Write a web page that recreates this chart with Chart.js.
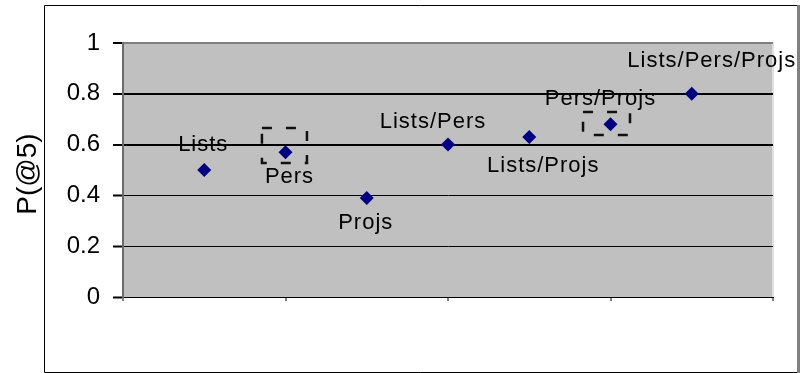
<!DOCTYPE html>
<html>
<head>
<meta charset="utf-8">
<script src="https://cdn.jsdelivr.net/npm/chart.js@4/dist/chart.umd.min.js"></script>
<style>
  body { margin: 0; background: #fff; }
</style>
</head>
<body>
<canvas id="chart" width="801" height="373"></canvas>
<script>
// data
const categories = ['Lists', 'Pers', 'Projs', 'Lists/Pers', 'Lists/Projs', 'Pers/Projs', 'Lists/Pers/Projs']
const xValues = [0.5, 1, 1.5, 2, 2.5, 3, 3.5]
const p5Values = [0.5, 0.57, 0.39, 0.6, 0.63, 0.68, 0.8]
const yTicks = [0, 0.2, 0.4, 0.6, 0.8, 1]

// where each point's label sits, in px from the point
const labelDx = [-1, 4, -1, -15, 14, -10, 20]
const labelDy = [-25, 25, 25, -23, 29, -25, -33]

// dashed boxes around two of the points (data units)
const boxes = [
  { x0: 0.855, x1: 1.132, y0: 0.528, y1: 0.665 },
  { x0: 2.831, x1: 3.12, y0: 0.638, y1: 0.728 }
]

const frame = {
  id: 'frame',
  beforeDraw(chart) {
    const { ctx, chartArea: a } = chart
    ctx.save()
    ctx.fillStyle = '#c0c0c0'
    ctx.fillRect(a.left, a.top, a.right - a.left, a.bottom - a.top)
    ctx.strokeStyle = '#e0e0e0'
    ctx.lineWidth = 2
    ctx.beginPath()
    ctx.moveTo(a.right, a.top)
    ctx.lineTo(a.right, a.bottom + 4)
    ctx.stroke()
    // outer border
    ctx.strokeStyle = '#000'
    ctx.lineWidth = 1
    ctx.beginPath()
    ctx.moveTo(797, 5.5)
    ctx.lineTo(44.5, 5.5)
    ctx.lineTo(44.5, 372.5)
    ctx.lineTo(797, 372.5)
    ctx.stroke()
    ctx.strokeStyle = '#808080'
    ctx.lineWidth = 3
    ctx.beginPath()
    ctx.moveTo(798.5, 5)
    ctx.lineTo(798.5, 373)
    ctx.stroke()
    // y title
    ctx.fillStyle = '#000'
    ctx.font = '28px "Liberation Sans", Arial, sans-serif'
    ctx.textAlign = 'center'
    ctx.textBaseline = 'middle'
    ctx.translate(28, 174)
    ctx.rotate(-Math.PI / 2)
    ctx.fillText('P(@5)', 0, 0)
    ctx.restore()
  },
  afterDatasetsDraw(chart) {
    const { ctx } = chart
    const xs = chart.scales.x, ys = chart.scales.y
    ctx.save()
    ctx.strokeStyle = '#111'
    ctx.lineWidth = 2.5
    ctx.setLineDash([10, 14])
    boxes.forEach(b => {
      const l = xs.getPixelForValue(b.x0), r = xs.getPixelForValue(b.x1)
      const t = ys.getPixelForValue(b.y1), btm = ys.getPixelForValue(b.y0)
      ctx.strokeRect(l, t, r - l, btm - t)
    })
    ctx.setLineDash([])
    ctx.fillStyle = '#000'
    ctx.font = '22px "Liberation Sans", Arial, sans-serif'
    ctx.letterSpacing = '1px'
    ctx.textAlign = 'center'
    ctx.textBaseline = 'middle'
    chart.getDatasetMeta(0).data.forEach((pt, i) => {
      ctx.fillText(categories[i], pt.x + labelDx[i], pt.y + labelDy[i])
    })
    ctx.restore()
  }
}

new Chart(document.getElementById('chart'), {
  type: 'scatter',
  data: {
    datasets: [{
      label: 'P(@5)',
      data: xValues.map((x, i) => ({ x: x, y: p5Values[i] })),
      pointStyle: 'rectRot',
      pointRadius: 7,
      pointBackgroundColor: '#000080',
      pointBorderWidth: 0,
      pointHoverRadius: 7
    }]
  },
  options: {
    responsive: false,
    animation: false,
    events: [],
    layout: { padding: { top: 43, right: 28, left: 0, bottom: 0 } },
    plugins: { legend: { display: false }, tooltip: { enabled: false } },
    scales: {
      x: {
        type: 'linear',
        min: 0,
        max: 4,
        ticks: { display: false, stepSize: 1 },
        grid: { drawOnChartArea: false, drawTicks: true, tickLength: 4, color: '#808080', lineWidth: 2 },
        border: { color: '#000', width: 1 },
        afterFit: scale => { scale.height = 76 }
      },
      y: {
        min: 0,
        max: 1,
        afterBuildTicks: scale => { scale.ticks = yTicks.map(v => ({ value: v })) },
        ticks: {
          color: '#000',
          padding: 13,
          font: { family: '"Liberation Sans", Arial, sans-serif', size: 24 },
          callback: v => String(v)
        },
        grid: {
          color: c => c.tick && c.tick.value === 1 ? '#808080' : '#000',
          lineWidth: c => c.tick && (c.tick.value === 0.6 || c.tick.value === 0.8 || c.tick.value === 1) ? 2 : 1,
          tickColor: '#000',
          tickLength: 10,
          tickWidth: 2
        },
        border: { color: '#6b6b6b', width: 2 },
        afterFit: scale => { scale.width = 123 }
      }
    }
  },
  plugins: [frame]
})
</script>
</body>
</html>
